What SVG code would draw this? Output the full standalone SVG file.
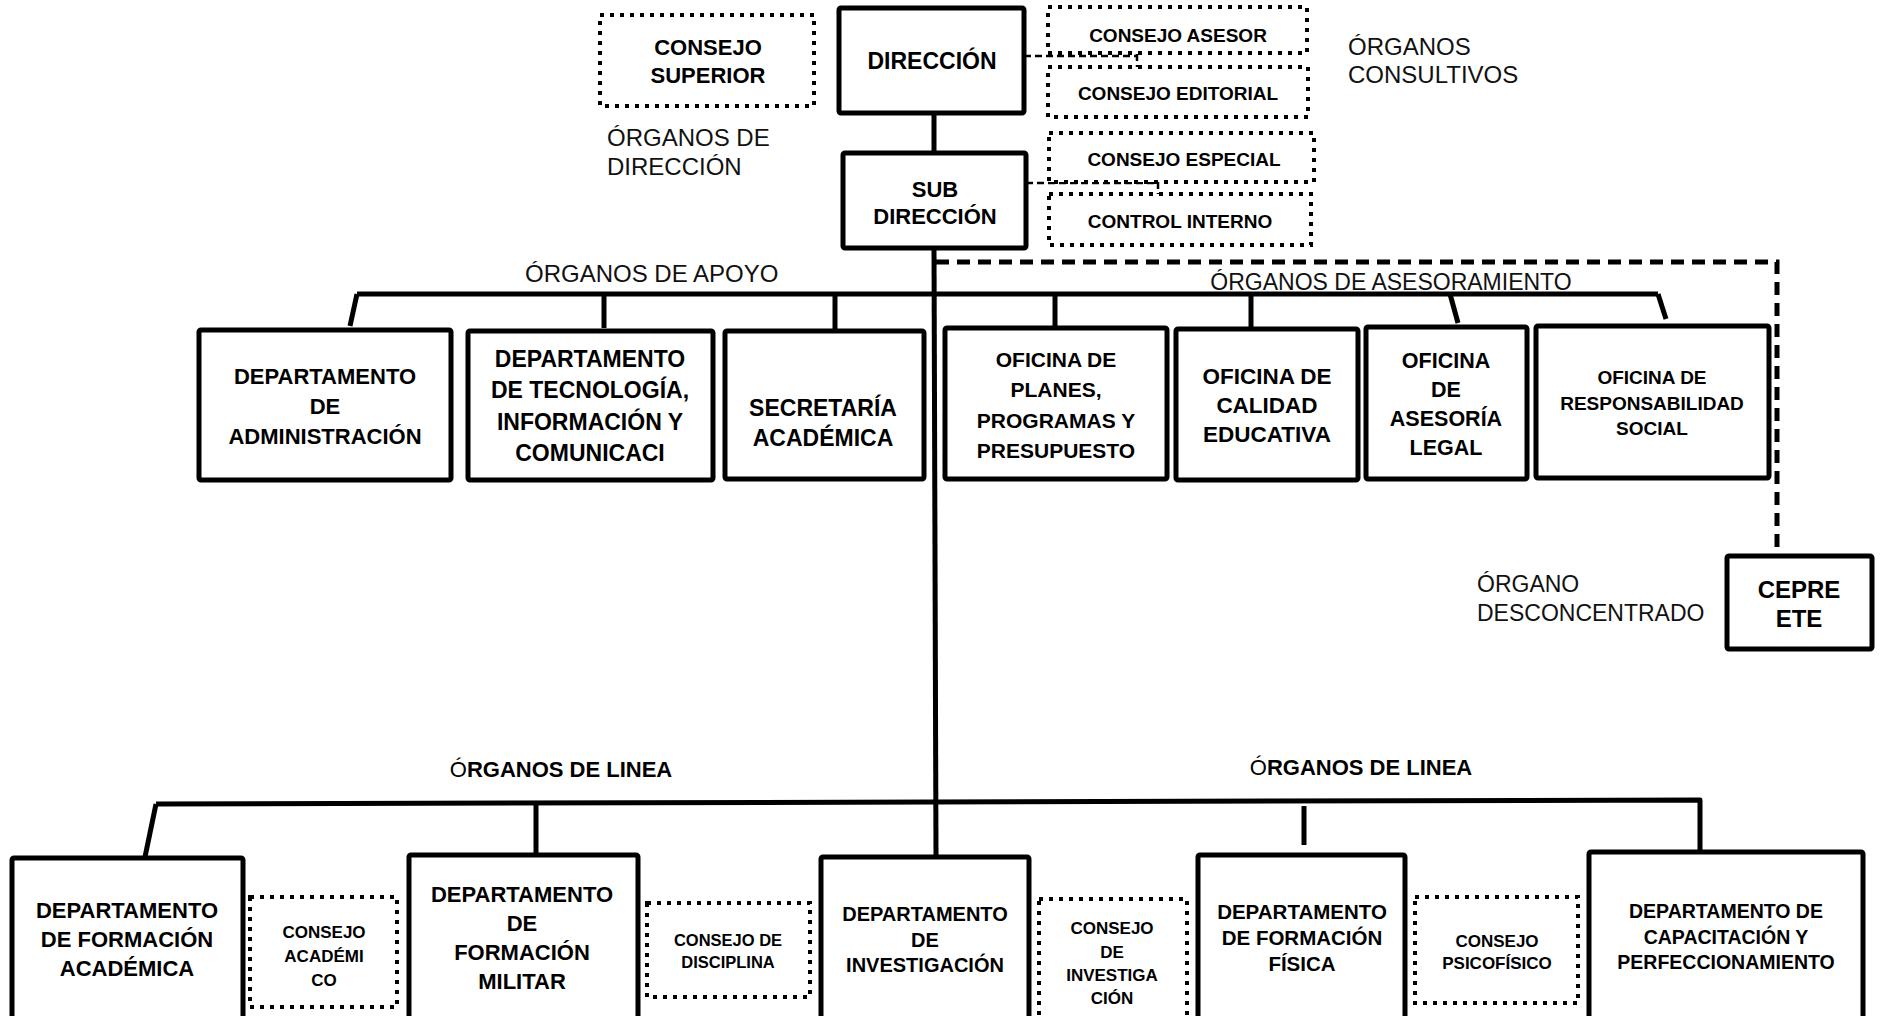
<svg xmlns="http://www.w3.org/2000/svg" width="1880" height="1016" viewBox="0 0 1880 1016">
<style>
.box{fill:#fff;stroke:#000;stroke-width:5;stroke-linejoin:round}
.dot{fill:#fff;stroke:#000;stroke-width:4;stroke-dasharray:4 6}
.t{font-family:"Liberation Sans",Arial,sans-serif;font-weight:bold;fill:#000;text-anchor:middle}
.lbl{font-family:"Liberation Sans",Arial,sans-serif;font-weight:normal;fill:#111;font-size:24px}
.conn{fill:none;stroke:#000;stroke-width:5;stroke-linejoin:round}
.dash{fill:none;stroke:#000;stroke-width:5;stroke-dasharray:13 8}
.thin{fill:none;stroke:#000;stroke-width:2.5;stroke-dasharray:7 4}
</style>
<rect width="1880" height="1016" fill="#fff"/>
<g id="connectors">
<path class="conn" d="M934,113 V153"/>
<path class="conn" d="M934,248 L936,857"/>
<path class="thin" d="M1024,56 H1137 M1137,43 V70"/>
<path class="thin" d="M1026,183 H1158 M1158,182 V194"/>
<path class="dash" d="M936,262 H1777 V555"/>
<path class="conn" d="M357,294 H1658"/>
<path class="conn" d="M357,294 L350,326"/>
<path class="conn" d="M604,294 V328"/>
<path class="conn" d="M835,294 V330"/>
<path class="conn" d="M1055,294 V327"/>
<path class="conn" d="M1251,294 V328"/>
<path class="conn" d="M1450,294 L1458,323"/>
<path class="conn" d="M1658,294 L1666,319"/>
<path class="conn" d="M156,804 L1700,800 V852"/>
<path class="conn" d="M156,804 L145,857"/>
<path class="conn" d="M536,803 V853"/>
<path class="conn" d="M1304,806 V845"/>
</g>
<g id="organos-direccion-label"><text class="lbl" x="607" y="146">ÓRGANOS DE</text><text class="lbl" x="607" y="175">DIRECCIÓN</text></g>
<g id="organos-consultivos-label"><text class="lbl" x="1348" y="55">ÓRGANOS</text><text class="lbl" x="1348" y="83">CONSULTIVOS</text></g>
<g id="organos-apoyo-label"><text class="lbl" x="525" y="282">ÓRGANOS DE APOYO</text></g>
<g id="organos-asesoramiento-label"><text class="lbl" x="1391" y="290" text-anchor="middle" style="font-size:23px">ÓRGANOS DE ASESORAMIENTO</text></g>
<g id="organo-desconcentrado-label"><text class="lbl" x="1477" y="592" style="font-size:23px">ÓRGANO</text><text class="lbl" x="1477" y="621" style="font-size:23px">DESCONCENTRADO</text></g>
<g id="organos-linea-left"><text class="t" x="561" y="777" font-size="22"><tspan font-weight="normal">Ó</tspan>RGANOS DE LINEA</text></g>
<g id="organos-linea-right"><text class="t" x="1361" y="775" font-size="22"><tspan font-weight="normal">Ó</tspan>RGANOS DE LINEA</text></g>

<g id="consejo-superior"><rect class="dot" x="600" y="15" width="214" height="91"/><text class="t" font-size="22" x="708" y="55">CONSEJO</text><text class="t" font-size="22" x="708" y="83">SUPERIOR</text></g>
<g id="direccion"><rect class="box" x="839" y="8" width="185" height="105" rx="2"/><text class="t" font-size="23" x="932" y="69">DIRECCIÓN</text></g>
<g id="sub-direccion"><rect class="box" x="843" y="153" width="183" height="95" rx="2"/><text class="t" font-size="22" x="935" y="197">SUB</text><text class="t" font-size="22" x="935" y="224">DIRECCIÓN</text></g>
<g id="consejo-asesor"><rect class="dot" x="1048" y="7" width="259" height="46"/><text class="t" font-size="19" x="1178" y="42">CONSEJO ASESOR</text></g>
<g id="consejo-editorial"><rect class="dot" x="1048" y="67" width="260" height="50"/><text class="t" font-size="19" x="1178" y="100">CONSEJO EDITORIAL</text></g>
<g id="consejo-especial"><rect class="dot" x="1049" y="133" width="265" height="49"/><text class="t" font-size="19" x="1184" y="166">CONSEJO ESPECIAL</text></g>
<g id="control-interno"><rect class="dot" x="1049" y="194" width="262" height="51"/><text class="t" font-size="19" x="1180" y="228">CONTROL INTERNO</text></g>

<g id="dep-administracion"><rect class="box" x="199" y="330" width="252" height="150" rx="2"/><text class="t" font-size="22" x="325" y="384">DEPARTAMENTO</text><text class="t" font-size="22" x="325" y="414">DE</text><text class="t" font-size="22" x="325" y="444">ADMINISTRACIÓN</text></g>
<g id="dep-tecnologia"><rect class="box" x="468" y="331" width="245" height="149" rx="2"/><text class="t" font-size="23" x="590" y="367">DEPARTAMENTO</text><text class="t" font-size="23" x="590" y="398">DE TECNOLOGÍA,</text><text class="t" font-size="23" x="590" y="430">INFORMACIÓN Y</text><text class="t" font-size="23" x="590" y="461">COMUNICACI</text></g>
<g id="secretaria-academica"><rect class="box" x="725" y="331" width="199" height="148" rx="2"/><text class="t" font-size="23" x="823" y="416">SECRETARÍA</text><text class="t" font-size="23" x="823" y="446">ACADÉMICA</text></g>
<g id="oficina-planes"><rect class="box" x="945" y="328" width="222" height="151" rx="2"/><text class="t" font-size="21" x="1056" y="367">OFICINA DE</text><text class="t" font-size="21" x="1056" y="397">PLANES,</text><text class="t" font-size="21" x="1056" y="428">PROGRAMAS Y</text><text class="t" font-size="21" x="1056" y="458">PRESUPUESTO</text></g>
<g id="oficina-calidad"><rect class="box" x="1176" y="329" width="182" height="151" rx="2"/><text class="t" font-size="22.5" x="1267" y="384">OFICINA DE</text><text class="t" font-size="22.5" x="1267" y="413">CALIDAD</text><text class="t" font-size="22.5" x="1267" y="442">EDUCATIVA</text></g>
<g id="oficina-legal"><rect class="box" x="1366" y="327" width="161" height="152" rx="2"/><text class="t" font-size="21.5" x="1446" y="368">OFICINA</text><text class="t" font-size="21.5" x="1446" y="397">DE</text><text class="t" font-size="21.5" x="1446" y="426">ASESORÍA</text><text class="t" font-size="21.5" x="1446" y="455">LEGAL</text></g>
<g id="oficina-responsabilidad"><rect class="box" x="1536" y="326" width="233" height="152" rx="2"/><text class="t" font-size="19" x="1652" y="384">OFICINA DE</text><text class="t" font-size="19" x="1652" y="410">RESPONSABILIDAD</text><text class="t" font-size="19" x="1652" y="435">SOCIAL</text></g>
<g id="cepre-ete"><rect class="box" x="1727" y="556" width="145" height="93" rx="2"/><text class="t" font-size="24" x="1799" y="598">CEPRE</text><text class="t" font-size="24" x="1799" y="627">ETE</text></g>

<g id="dep-formacion-academica"><rect class="box" x="12" y="858" width="231" height="175" rx="2"/><text class="t" font-size="22" x="127" y="918">DEPARTAMENTO</text><text class="t" font-size="22" x="127" y="947">DE FORMACIÓN</text><text class="t" font-size="22" x="127" y="976">ACADÉMICA</text></g>
<g id="consejo-academico"><rect class="dot" x="250" y="897" width="147" height="110"/><text class="t" font-size="17" x="324" y="938">CONSEJO</text><text class="t" font-size="17" x="324" y="962">ACADÉMI</text><text class="t" font-size="17" x="324" y="986">CO</text></g>
<g id="dep-formacion-militar"><rect class="box" x="409" y="855" width="229" height="175" rx="2"/><text class="t" font-size="22" x="522" y="902">DEPARTAMENTO</text><text class="t" font-size="22" x="522" y="931">DE</text><text class="t" font-size="22" x="522" y="960">FORMACIÓN</text><text class="t" font-size="22" x="522" y="989">MILITAR</text></g>
<g id="consejo-disciplina"><rect class="dot" x="647" y="903" width="163" height="94"/><text class="t" font-size="16.5" x="728" y="946">CONSEJO DE</text><text class="t" font-size="16.5" x="728" y="968">DISCIPLINA</text></g>
<g id="dep-investigacion"><rect class="box" x="821" y="857" width="208" height="175" rx="2"/><text class="t" font-size="20" x="925" y="921">DEPARTAMENTO</text><text class="t" font-size="20" x="925" y="947">DE</text><text class="t" font-size="20" x="925" y="972">INVESTIGACIÓN</text></g>
<g id="consejo-investigacion"><rect class="dot" x="1039" y="899" width="148" height="135"/><text class="t" font-size="17" x="1112" y="934">CONSEJO</text><text class="t" font-size="17" x="1112" y="958">DE</text><text class="t" font-size="17" x="1112" y="981">INVESTIGA</text><text class="t" font-size="17" x="1112" y="1004">CIÓN</text></g>
<g id="dep-formacion-fisica"><rect class="box" x="1198" y="855" width="207" height="175" rx="2"/><text class="t" font-size="20.5" x="1302" y="919">DEPARTAMENTO</text><text class="t" font-size="20.5" x="1302" y="945">DE FORMACIÓN</text><text class="t" font-size="20.5" x="1302" y="971">FÍSICA</text></g>
<g id="consejo-psicofisico"><rect class="dot" x="1415" y="897" width="163" height="106"/><text class="t" font-size="17" x="1497" y="947">CONSEJO</text><text class="t" font-size="17" x="1497" y="969">PSICOFÍSICO</text></g>
<g id="dep-capacitacion"><rect class="box" x="1589" y="852" width="274" height="180" rx="2"/><text class="t" font-size="19.5" x="1726" y="918">DEPARTAMENTO DE</text><text class="t" font-size="19.5" x="1726" y="944">CAPACITACIÓN Y</text><text class="t" font-size="19.5" x="1726" y="969">PERFECCIONAMIENTO</text></g>
</svg>
